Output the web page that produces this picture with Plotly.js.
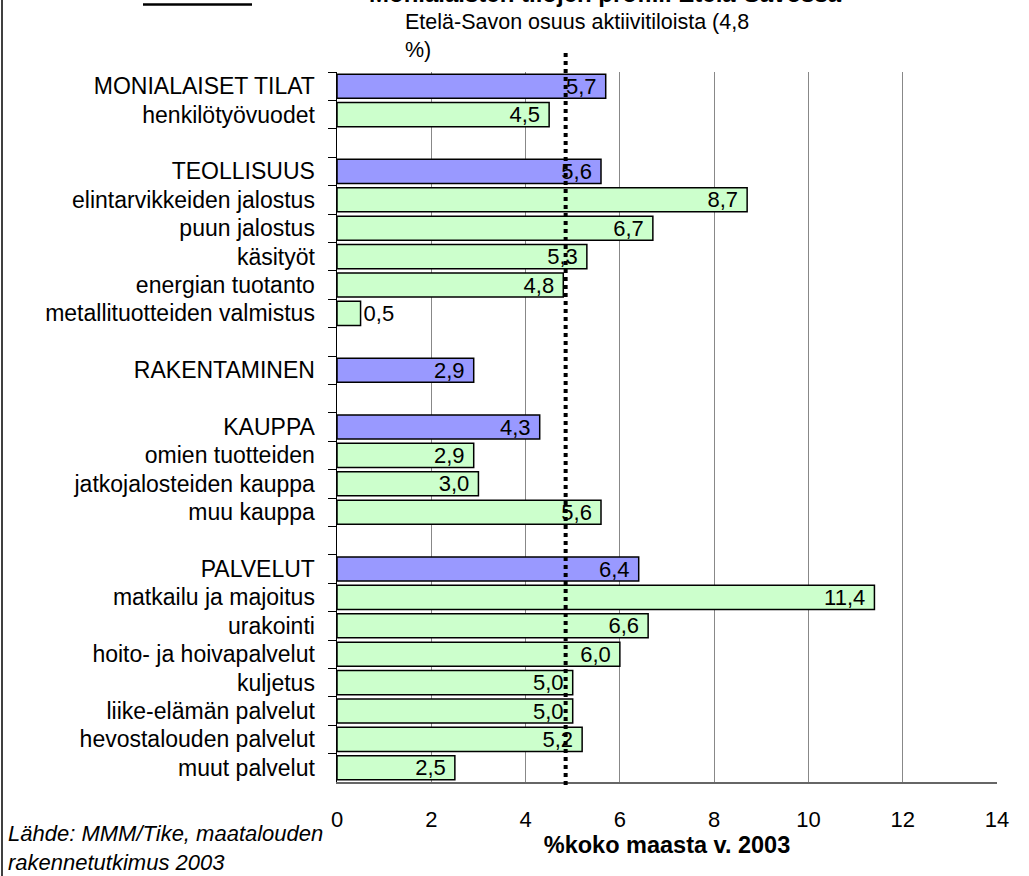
<!DOCTYPE html>
<html>
<head>
<meta charset="utf-8">
<script src="https://cdn.plot.ly/plotly-3.0.1.min.js"></script>
<style>html,body{margin:0;padding:0;background:#fff;}#chart{width:1029px;height:876px;}</style>
</head>
<body>
<div id="chart"></div>
<script>
// Row order (top to bottom); blank strings are spacer rows
const rowOrder = [
  "MONIALAISET TILAT", "henkilötyövuodet", " ",
  "TEOLLISUUS", "elintarvikkeiden jalostus", "puun jalostus", "käsityöt", "energian tuotanto", "metallituotteiden valmistus", "  ",
  "RAKENTAMINEN", "   ",
  "KAUPPA", "omien tuotteiden", "jatkojalosteiden kauppa", "muu kauppa", "    ",
  "PALVELUT", "matkailu ja majoitus", "urakointi", "hoito- ja hoivapalvelut", "kuljetus", "liike-elämän palvelut", "hevostalouden palvelut", "muut palvelut"
];

// Main sectors (blue bars)
const sectorNames = ["MONIALAISET TILAT", "TEOLLISUUS", "RAKENTAMINEN", "KAUPPA", "PALVELUT"];
const sectorValues = [5.7, 5.6, 2.9, 4.3, 6.4];

// Sub-categories (green bars)
const subNames = ["henkilötyövuodet", "elintarvikkeiden jalostus", "puun jalostus", "käsityöt", "energian tuotanto",
  "metallituotteiden valmistus", "omien tuotteiden", "jatkojalosteiden kauppa", "muu kauppa",
  "matkailu ja majoitus", "urakointi", "hoito- ja hoivapalvelut", "kuljetus", "liike-elämän palvelut",
  "hevostalouden palvelut", "muut palvelut"];
const subValues = [4.5, 8.7, 6.7, 5.3, 4.8, 0.5, 2.9, 3.0, 5.6, 11.4, 6.6, 6.0, 5.0, 5.0, 5.2, 2.5];

// Reference line: Etelä-Savo's share of active farms
const refLineValue = 4.85;
const refLineLabel = "Etelä-Savon osuus aktiivitiloista (4,8<br>%)";

const xTickVals = [0, 2, 4, 6, 8, 10, 12, 14];

const FONT = "Liberation Sans, Arial, sans-serif";

// pixel helpers (plot area: l=337, t=72, w=660, h=710)
const PL = 337, PT = 72, PW = 660, PH = 710;
const px = v => (v - PL) / PW;
const py = v => (PT + PH - v) / PH;

const barCommon = {
  type: "bar",
  orientation: "h",
  width: 0.85,
  texttemplate: "%{x:.1f}\u00a0",
  textposition: "auto",
  insidetextanchor: "end",
  constraintext: "none",
  textangle: 0,
  insidetextfont: {family: FONT, size: 22, color: "#000"},
  outsidetextfont: {family: FONT, size: 22, color: "#000"},
  cliponaxis: false,
  hoverinfo: "skip",
  showlegend: false
};

const traces = [
  Object.assign({}, barCommon, {
    y: sectorNames, x: sectorValues,
    marker: {color: "#9999FF", line: {color: "#000", width: 1.5}}
  }),
  Object.assign({}, barCommon, {
    y: subNames, x: subValues,
    marker: {color: "#CCFFCC", line: {color: "#000", width: 1.5}}
  })
];

const layout = {
  width: 1029, height: 876,
  margin: {l: PL, r: 1029 - PL - PW, t: PT, b: 876 - PT - PH, pad: 0},
  paper_bgcolor: "#fff", plot_bgcolor: "#fff",
  separators: ", ",
  barmode: "overlay",
  font: {family: FONT, size: 22, color: "#000"},
  xaxis: {
    range: [0, 14], tickvals: xTickVals, ticks: "", ticklabelstandoff: 17,
    tickfont: {family: FONT, size: 22, color: "#000"},
    showgrid: true, gridcolor: "#888", gridwidth: 1, zeroline: false,
    showline: true, linecolor: "#666", linewidth: 2,
    title: {text: "<b>%koko maasta v. 2003</b>", font: {family: FONT, size: 23.5, color: "#000"}, standoff: 2},
    fixedrange: true
  },
  xaxis2: {
    overlaying: "x", side: "top", anchor: "y", range: [0, 14], tickvals: xTickVals,
    ticks: "outside", ticklen: 8, tickcolor: "#000", tickwidth: 1,
    showticklabels: false, showgrid: false, zeroline: false,
    showline: true, linecolor: "#000", linewidth: 2, fixedrange: true
  },
  yaxis: {
    type: "category", categoryorder: "array", categoryarray: rowOrder,
    range: [rowOrder.length - 0.5, -0.5],
    tickson: "boundaries", ticks: "outside", ticklen: 8, tickcolor: "#000", tickwidth: 1,
    ticklabelstandoff: 16,
    tickfont: {family: FONT, size: 23, color: "#000"},
    showgrid: false, zeroline: false,
    showline: true, linecolor: "#000", linewidth: 1.5, fixedrange: true
  },
  shapes: [
    {type: "line", xref: "x", yref: "paper", x0: refLineValue, x1: refLineValue, y0: py(785), y1: py(53),
     line: {color: "#000", width: 4, dash: "4px,4px"}, layer: "above"},
    {type: "line", xref: "paper", yref: "paper", x0: px(2), x1: px(2), y0: py(0), y1: py(876),
     line: {color: "#000", width: 1.5}},
    {type: "line", xref: "paper", yref: "paper", x0: px(143), x1: px(252), y0: py(4.5), y1: py(4.5),
     line: {color: "#000", width: 2.5}}
  ],
  annotations: [
    {xref: "paper", yref: "paper", x: px(605), y: py(9.5), xanchor: "center", yanchor: "bottom",
     text: "<b>Monialaisten tilojen profiili Etelä-Savossa</b>", showarrow: false,
     font: {family: FONT, size: 24, color: "#000"}},
    {xref: "paper", yref: "paper", x: px(403), y: py(36), xanchor: "left", yanchor: "middle", align: "left",
     text: refLineLabel, showarrow: false, font: {family: FONT, size: 21.5, color: "#000"}},
    {xref: "paper", yref: "paper", x: px(6), y: py(848), xanchor: "left", yanchor: "middle", align: "left",
     text: "<i>Lähde: MMM/Tike, maatalouden<br>rakennetutkimus 2003</i>", showarrow: false,
     font: {family: FONT, size: 22, color: "#000"}}
  ]
};

Plotly.newPlot("chart", traces, layout, {displayModeBar: false, staticPlot: true});
</script>
</body>
</html>
